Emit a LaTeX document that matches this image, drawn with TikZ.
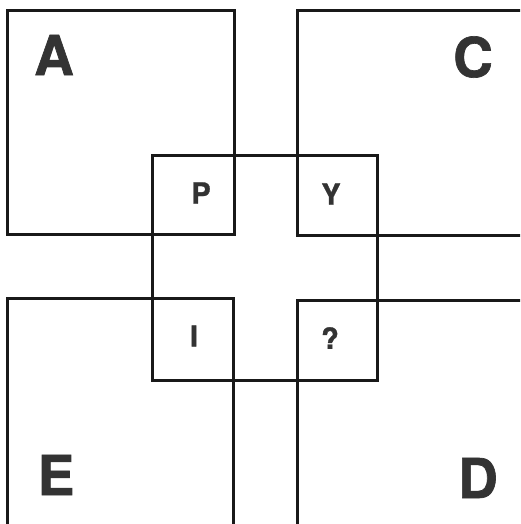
\documentclass[tikz,border=0pt]{standalone}
\usepackage{fontspec}
\setmainfont{TeX Gyre Heros}
\newfontfamily\heavyfont[FakeBold=1.2]{TeX Gyre Heros}
\usetikzlibrary{positioning}

\begin{document}
\begin{tikzpicture}[
    x=1pt, y=-1pt,
    frame/.style={draw=black!90, line width=3pt},
    biglet/.style={font=\fontsize{55}{55}\selectfont\heavyfont\bfseries, text=black!80, inner sep=0pt},
    smalllet/.style={font=\fontsize{29}{29}\selectfont\heavyfont\bfseries, text=black!80, inner sep=0pt}
]

\clip (0,0) rectangle (520,524);

% Squares
\draw[frame] (7,10.5) rectangle (234,234);
\draw[frame] (297,11) rectangle (522,235);
\draw[frame] (7,298) rectangle (233,526);
\draw[frame] (297,300) rectangle (522,526);
\draw[frame] (152,155) rectangle (377,380);

% Corner letters
\node[biglet] (A) at (54,55) {A};
\node[biglet] (C) at (473,57) {C};
\node[biglet] (E) at (56,475) {E};
\node[biglet] (D) at (478,478) {D};

% Inner letters
\node[smalllet] (P) at (201,193) {P};
\node[smalllet] (Y) at (331,194) {Y};
\node[smalllet] (I) at (194,336) {I};
\node[smalllet] (Q) at (330,338) {?};

\end{tikzpicture}
\end{document}
